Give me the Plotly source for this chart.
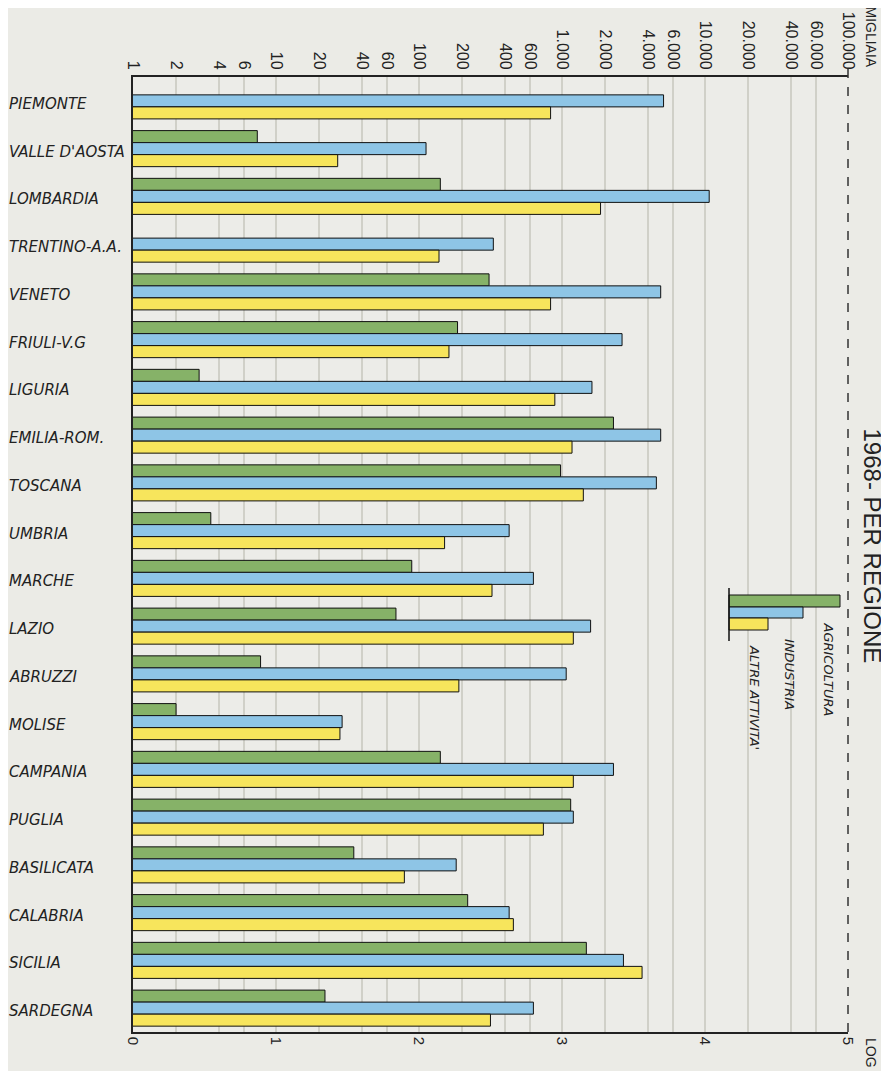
import plotly.graph_objects as go

# occupati 1968 per regione, in migliaia (scala logaritmica)
REGIONI = [
    'PIEMONTE', "VALLE D'AOSTA", 'LOMBARDIA', 'TRENTINO-A.A.', 'VENETO',
    'FRIULI-V.G', 'LIGURIA', 'EMILIA-ROM.', 'TOSCANA', 'UMBRIA',
    'MARCHE', 'LAZIO', 'ABRUZZI', 'MOLISE', 'CAMPANIA',
    'PUGLIA', 'BASILICATA', 'CALABRIA', 'SICILIA', 'SARDEGNA',
]
AGRICOLTURA = [None, 7.4, 141, None, 309, 186, 2.9, 2290, 977, 3.5,
               89, 69, 7.8, 2.0, 141, 1150, 35, 219, 1480, 22]
INDUSTRIA = [5130, 112, 10700, 331, 4900, 2630, 1620, 4900, 4570, 427,
             631, 1585, 1070, 29, 2290, 1200, 182, 427, 2690, 631]
ALTRE_ATTIVITA = [832, 27, 1860, 138, 832, 162, 891, 1175, 1410, 151,
                  324, 1200, 190, 28, 1200, 741, 79, 457, 3630, 316]

TOP_TICKS = [1, 2, 4, 6, 10, 20, 40, 60, 100, 200, 400, 600,
             1000, 2000, 4000, 6000, 10000, 20000, 40000, 60000, 100000]
TOP_LABELS = ['1', '2', '4', '6', '10', '20', '40', '60', '100', '200', '400', '600',
              '1.000', '2.000', '4.000', '6.000', '10.000', '20.000', '40.000',
              '60.000', '100.000']
LOG_TICKS = [1, 10, 100, 1000, 10000, 100000]
LOG_LABELS = ['0', '1', '2', '3', '4', '5']

SERIES = [
    ('AGRICOLTURA', AGRICOLTURA, '#86b268'),
    ('INDUSTRIA', INDUSTRIA, '#8ec5e6'),
    ("ALTRE ATTIVITA'", ALTRE_ATTIVITA, '#f7e55c'),
]

BG = '#ebebe6'
INK = '#222222'
OFF = 8  # page body margin
W, H = 889 - OFF, 1071 - OFF
L, T = 133 - OFF, 77 - OFF
R, B = W - (848 - OFF), H - (1032 - OFF)
ROT_DX = 12  # rotated annotations land a bit left of their anchor


def px_x(px):
    return (px - OFF - L) / (W - L - R)


def px_y(py):
    return (H - B - (py - OFF)) / (H - T - B)


def vtext(text, xc, y, size, anchor='middle', **font):
    fig.add_annotation(x=px_x(xc), y=px_y(y), xref='paper', yref='paper',
                       xshift=ROT_DX, yanchor=anchor, text=text, textangle=90,
                       showarrow=False, font=dict(size=size, color=INK, **font))


fig = go.Figure()
for name, vals, col in SERIES:
    fig.add_trace(go.Bar(
        y=REGIONI, x=vals, name=name, orientation='h',
        marker=dict(color=col, line=dict(color='#111111', width=1)),
        showlegend=False,
    ))

# invisible trace so the bottom (LOG) axis gets drawn
fig.add_trace(go.Scatter(
    x=[1], y=[REGIONI[0]], xaxis='x2', mode='markers',
    marker=dict(opacity=0), hoverinfo='skip', showlegend=False,
))

fig.update_layout(
    width=W, height=H,
    margin=dict(l=L, r=R, t=T, b=B, autoexpand=False),
    paper_bgcolor=BG, plot_bgcolor='#ecece8',
    barmode='group', bargap=0.245, bargroupgap=0,
    font=dict(family='Liberation Sans', color=INK),
    xaxis=dict(
        type='log', range=[0, 5], side='top', automargin=False,
        tickvals=TOP_TICKS, ticktext=TOP_LABELS, tickangle=90,
        tickfont=dict(size=16, color=INK),
        showgrid=True, gridcolor='#d0d0c8', gridwidth=1.5,
        showline=True, linecolor='#222222', linewidth=1.5,
        zeroline=False, ticks='',
    ),
    xaxis2=dict(
        type='log', range=[0, 5], side='bottom', overlaying='x', anchor='y',
        automargin=False,
        tickvals=LOG_TICKS, ticktext=LOG_LABELS, tickangle=90,
        tickfont=dict(size=15, color=INK),
        showgrid=False, showline=True, linecolor='#222222', linewidth=1.5,
        ticks='',
    ),
    yaxis=dict(
        type='category', range=[len(REGIONI) - 0.5, -0.5], showticklabels=False,
        automargin=False,
        showgrid=False, showline=True, linecolor='#222222', linewidth=1.5,
        zeroline=False,
    ),
)

for reg in REGIONI:
    fig.add_annotation(
        x=px_x(7), xref='paper', y=reg, yref='y', xanchor='left', yshift=-3,
        text=reg, showarrow=False,
        font=dict(family='DejaVu Sans', size=15, style='italic', color=INK),
    )

# right frame, dashed
fig.add_shape(type='line', xref='paper', yref='paper', x0=1, x1=1, y0=0, y1=px_y(66),
              line=dict(color='#333333', width=1.5, dash='dash'))

# title and axis units
vtext('1968- PER REGIONE', 876, 546, 24)
vtext('MIGLIAIA', 869, 5, 14, anchor='top')
vtext('LOG', 869, 1036, 14, anchor='top')

# legend swatches
swatches = [(840, 595, 607), (803, 607, 618), (768, 618, 630)]
for (name, vals, col), (xe, ya, yb) in zip(SERIES, swatches):
    fig.add_shape(type='rect', xref='paper', yref='paper',
                  x0=px_x(729), x1=px_x(xe), y0=px_y(yb), y1=px_y(ya),
                  fillcolor=col, line=dict(color='#111111', width=1))
fig.add_shape(type='line', xref='paper', yref='paper',
              x0=px_x(729), x1=px_x(729), y0=px_y(641), y1=px_y(588),
              line=dict(color='#111111', width=1.5))
for (name, vals, col), (xc, yt) in zip(SERIES, [(826, 620), (787, 637), (752, 643)]):
    vtext(name, xc, yt, 13, anchor='top', family='DejaVu Sans', style='italic')

fig.write_html('out.html')
